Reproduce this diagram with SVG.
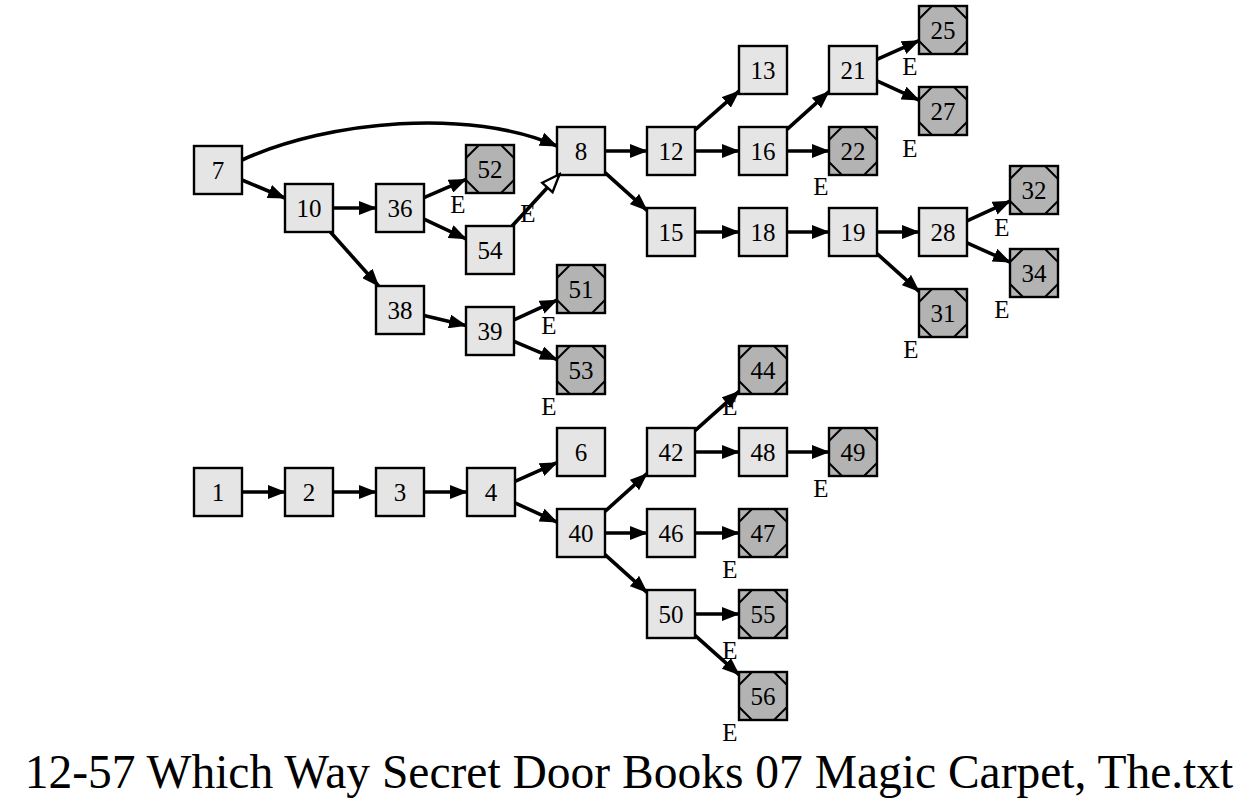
<svg xmlns="http://www.w3.org/2000/svg" xmlns:xlink="http://www.w3.org/1999/xlink" width="1253" height="811" viewBox="0 0 1253 811">
  <style>
    .box { fill: #e5e5e5; stroke: #000; stroke-width: 2.4; }
    .end { fill: #b3b3b3; stroke: #000; stroke-width: 2.4; }
    .cut { fill: none; stroke: #000; stroke-width: 2; }
    .lbl { font-family: "Liberation Serif", "Times New Roman", serif; font-size: 25px; text-anchor: middle; fill: #000; }
    .edge { fill: none; stroke: #000; stroke-width: 3.6; marker-end: url(#arrow); }
    .edge.open { marker-end: url(#arrowOpen); }
    .title { font-family: "Liberation Serif", "Times New Roman", serif; font-size: 47.5px; text-anchor: middle; fill: #000; }
  </style>
  <defs>
    <marker id="arrow" markerUnits="userSpaceOnUse" viewBox="0 0 18 14" markerWidth="18" markerHeight="14" refX="17" refY="7" orient="auto">
      <path d="M0,0 L18,7 L0,14 z" fill="#000"/>
    </marker>
    <marker id="arrowOpen" markerUnits="userSpaceOnUse" viewBox="-2 -2 22 18" markerWidth="22" markerHeight="18" refX="17" refY="7" orient="auto">
      <path d="M0,0 L18,7 L0,14 z" fill="#fff" stroke="#000" stroke-width="2.4"/>
    </marker>
    <g id="plain">
      <rect class="box" x="-24" y="-24" width="48" height="48"/>
    </g>
    <g id="terminal">
      <rect class="end" x="-24" y="-24" width="48" height="48"/>
      <path class="cut" d="M-11,-24 L-24,-11 M11,-24 L24,-11 M-24,11 L-11,24 M24,11 L11,24"/>
    </g>
  </defs>

  <rect width="1253" height="811" fill="#fff"/>

  <!-- nodes -->
  <g id="nodes">
    <g id="n7" transform="translate(218,170)"><use xlink:href="#plain"/><text class="lbl" y="8.5">7</text></g>
    <g id="n10" transform="translate(309,208)"><use xlink:href="#plain"/><text class="lbl" y="8.5">10</text></g>
    <g id="n36" transform="translate(400,208)"><use xlink:href="#plain"/><text class="lbl" y="8.5">36</text></g>
    <g id="n52" transform="translate(490,169)"><use xlink:href="#terminal"/><text class="lbl" y="8.5">52</text><text class="lbl" x="-32" y="44">E</text></g>
    <g id="n54" transform="translate(490,250)"><use xlink:href="#plain"/><text class="lbl" y="8.5">54</text></g>
    <g id="n8" transform="translate(581,151)"><use xlink:href="#plain"/><text class="lbl" y="8.5">8</text></g>
    <g id="n12" transform="translate(671,151)"><use xlink:href="#plain"/><text class="lbl" y="8.5">12</text></g>
    <g id="n13" transform="translate(763,70)"><use xlink:href="#plain"/><text class="lbl" y="8.5">13</text></g>
    <g id="n16" transform="translate(763,151)"><use xlink:href="#plain"/><text class="lbl" y="8.5">16</text></g>
    <g id="n21" transform="translate(853,70)"><use xlink:href="#plain"/><text class="lbl" y="8.5">21</text></g>
    <g id="n25" transform="translate(943,30)"><use xlink:href="#terminal"/><text class="lbl" y="8.5">25</text><text class="lbl" x="-33" y="45">E</text></g>
    <g id="n27" transform="translate(943,111)"><use xlink:href="#terminal"/><text class="lbl" y="8.5">27</text><text class="lbl" x="-33" y="46">E</text></g>
    <g id="n22" transform="translate(853,151)"><use xlink:href="#terminal"/><text class="lbl" y="8.5">22</text><text class="lbl" x="-32" y="44">E</text></g>
    <g id="n15" transform="translate(671,232)"><use xlink:href="#plain"/><text class="lbl" y="8.5">15</text></g>
    <g id="n18" transform="translate(763,232)"><use xlink:href="#plain"/><text class="lbl" y="8.5">18</text></g>
    <g id="n19" transform="translate(853,232)"><use xlink:href="#plain"/><text class="lbl" y="8.5">19</text></g>
    <g id="n28" transform="translate(943,232)"><use xlink:href="#plain"/><text class="lbl" y="8.5">28</text></g>
    <g id="n32" transform="translate(1034,190)"><use xlink:href="#terminal"/><text class="lbl" y="8.5">32</text><text class="lbl" x="-32" y="46">E</text></g>
    <g id="n34" transform="translate(1034,273)"><use xlink:href="#terminal"/><text class="lbl" y="8.5">34</text><text class="lbl" x="-32" y="45">E</text></g>
    <g id="n31" transform="translate(943,313)"><use xlink:href="#terminal"/><text class="lbl" y="8.5">31</text><text class="lbl" x="-32" y="45">E</text></g>
    <g id="n38" transform="translate(400,310)"><use xlink:href="#plain"/><text class="lbl" y="8.5">38</text></g>
    <g id="n39" transform="translate(490,331)"><use xlink:href="#plain"/><text class="lbl" y="8.5">39</text></g>
    <g id="n51" transform="translate(581,289)"><use xlink:href="#terminal"/><text class="lbl" y="8.5">51</text><text class="lbl" x="-32" y="45">E</text></g>
    <g id="n53" transform="translate(581,370)"><use xlink:href="#terminal"/><text class="lbl" y="8.5">53</text><text class="lbl" x="-32" y="45">E</text></g>
    <g id="n1" transform="translate(218,492)"><use xlink:href="#plain"/><text class="lbl" y="8.5">1</text></g>
    <g id="n2" transform="translate(309,492)"><use xlink:href="#plain"/><text class="lbl" y="8.5">2</text></g>
    <g id="n3" transform="translate(400,492)"><use xlink:href="#plain"/><text class="lbl" y="8.5">3</text></g>
    <g id="n4" transform="translate(491,492)"><use xlink:href="#plain"/><text class="lbl" y="8.5">4</text></g>
    <g id="n6" transform="translate(581,452)"><use xlink:href="#plain"/><text class="lbl" y="8.5">6</text></g>
    <g id="n40" transform="translate(581,533)"><use xlink:href="#plain"/><text class="lbl" y="8.5">40</text></g>
    <g id="n42" transform="translate(671,452)"><use xlink:href="#plain"/><text class="lbl" y="8.5">42</text></g>
    <g id="n44" transform="translate(763,370)"><use xlink:href="#terminal"/><text class="lbl" y="8.5">44</text><text class="lbl" x="-33" y="45">E</text></g>
    <g id="n48" transform="translate(763,452)"><use xlink:href="#plain"/><text class="lbl" y="8.5">48</text></g>
    <g id="n49" transform="translate(853,452)"><use xlink:href="#terminal"/><text class="lbl" y="8.5">49</text><text class="lbl" x="-32" y="45">E</text></g>
    <g id="n46" transform="translate(671,533)"><use xlink:href="#plain"/><text class="lbl" y="8.5">46</text></g>
    <g id="n47" transform="translate(763,533)"><use xlink:href="#terminal"/><text class="lbl" y="8.5">47</text><text class="lbl" x="-33" y="45">E</text></g>
    <g id="n50" transform="translate(671,614)"><use xlink:href="#plain"/><text class="lbl" y="8.5">50</text></g>
    <g id="n55" transform="translate(763,614)"><use xlink:href="#terminal"/><text class="lbl" y="8.5">55</text><text class="lbl" x="-33" y="45">E</text></g>
    <g id="n56" transform="translate(763,696)"><use xlink:href="#terminal"/><text class="lbl" y="8.5">56</text><text class="lbl" x="-33" y="45">E</text></g>
  </g>

  <!-- connectors -->
  <g id="connectors">
    <path class="edge" d="M242,180 L285,198"/>
    <path class="edge" d="M242,160 C330,120 470,108 557,146"/>
    <path class="edge" d="M333,208 L376,208"/>
    <path class="edge" d="M330.4,232 L378.6,286"/>
    <path class="edge" d="M424,197.6 L466,179.4"/>
    <path class="edge" d="M424,219.2 L466,238.8"/>
    <path class="edge open" d="M512.1,226 L558.9,175"/>
    <text class="lbl" x="528" y="222">E</text>
    <path class="edge" d="M605,151 L647,151"/>
    <path class="edge" d="M605,172.6 L647,210.4"/>
    <path class="edge" d="M695,129.9 L739,91.1"/>
    <path class="edge" d="M695,151 L739,151"/>
    <path class="edge" d="M787,129.4 L829,91.6"/>
    <path class="edge" d="M787,151 L829,151"/>
    <path class="edge" d="M877,59.3 L919,40.7"/>
    <path class="edge" d="M877,80.9 L919,100.1"/>
    <path class="edge" d="M695,232 L739,232"/>
    <path class="edge" d="M787,232 L829,232"/>
    <path class="edge" d="M877,232 L919,232"/>
    <path class="edge" d="M877,253.6 L919,291.4"/>
    <path class="edge" d="M967,220.9 L1010,201.1"/>
    <path class="edge" d="M967,242.8 L1010,262.2"/>
    <path class="edge" d="M424,315.6 L466,325.4"/>
    <path class="edge" d="M514,319.9 L557,300.1"/>
    <path class="edge" d="M514,341.3 L557,359.7"/>
    <path class="edge" d="M242,492 L285,492"/>
    <path class="edge" d="M333,492 L376,492"/>
    <path class="edge" d="M424,492 L467,492"/>
    <path class="edge" d="M515,481.3 L557,462.7"/>
    <path class="edge" d="M515,502.9 L557,522.1"/>
    <path class="edge" d="M605,511.4 L647,473.6"/>
    <path class="edge" d="M605,533 L647,533"/>
    <path class="edge" d="M605,554.6 L647,592.4"/>
    <path class="edge" d="M695,430.6 L739,391.4"/>
    <path class="edge" d="M695,452 L739,452"/>
    <path class="edge" d="M787,452 L829,452"/>
    <path class="edge" d="M695,533 L739,533"/>
    <path class="edge" d="M695,614 L739,614"/>
    <path class="edge" d="M695,635.4 L739,674.6"/>
  </g>

  <text class="title" x="629" y="788">12-57 Which Way Secret Door Books 07 Magic Carpet, The.txt</text>
</svg>
